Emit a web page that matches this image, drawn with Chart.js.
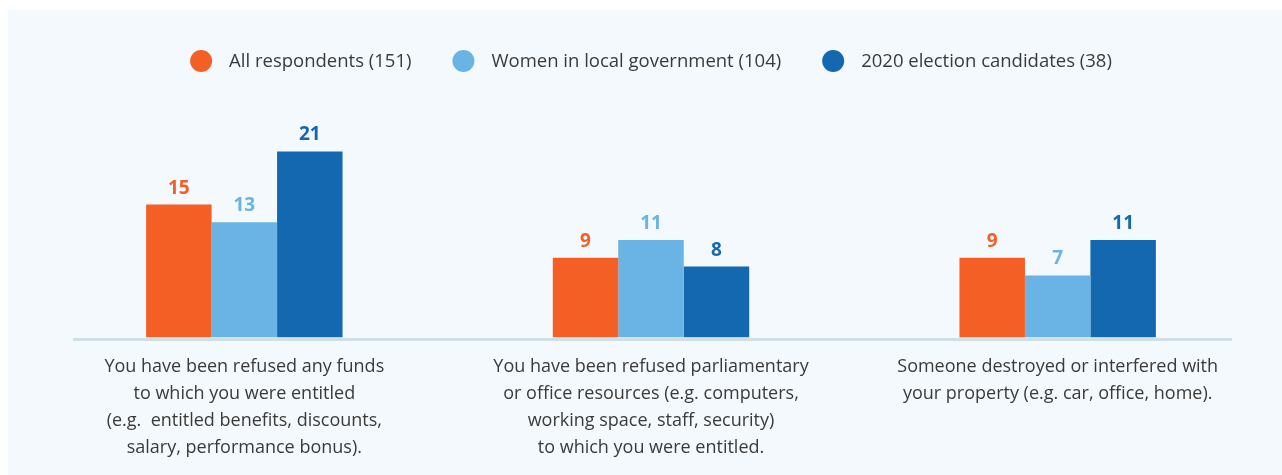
<!DOCTYPE html>
<html>
<head>
<meta charset="utf-8">
<title>Financial and property-related violence</title>
<script src="https://cdn.jsdelivr.net/npm/chart.js@4/dist/chart.umd.min.js"></script>
<style>
  html, body { margin: 0; padding: 0; background: #ffffff; }
  #wrap { position: relative; width: 1282px; height: 475px; }
  canvas { display: block; }
</style>
</head>
<body>
<div id="wrap"><canvas id="chart" width="1282" height="475"></canvas></div>
<script>
// Category labels (one array of lines per group)
const categories = [
  ["You have been refused any funds", "to which you were entitled", "(e.g.  entitled benefits, discounts,", "salary, performance bonus)."],
  ["You have been refused parliamentary", "or office resources (e.g. computers,", "working space, staff, security)", "to which you were entitled."],
  ["Someone destroyed or interfered with", "your property (e.g. car, office, home)."]
];

// Series names and values (percent of respondents)
const seriesNames = ["All respondents (151)", "Women in local government (104)", "2020 election candidates (38)"];
const allRespondents = [15, 9, 9];
const womenLocalGov = [13, 11, 7];
const electionCandidates = [21, 8, 11];

const colors = ["#F45F25", "#69B4E4", "#1368B0"];
const FONT = "'Open Sans', 'DejaVu Sans', sans-serif";
const TEXT = "#3A3A3A";

// Light panel behind the chart
const panelPlugin = {
  id: "panel",
  beforeDraw(chart) {
    const ctx = chart.ctx;
    ctx.save();
    ctx.fillStyle = "#F4F9FD";
    ctx.fillRect(8, 10, chart.width - 8, chart.height - 10);
    ctx.restore();
  }
};

// Baseline under the bars
const baselinePlugin = {
  id: "baseline",
  beforeDatasetsDraw(chart) {
    const ctx = chart.ctx;
    const y = chart.scales.y.getPixelForValue(0);
    ctx.save();
    ctx.strokeStyle = "#CFDFE8";
    ctx.lineWidth = 3;
    ctx.beginPath();
    ctx.moveTo(chart.chartArea.left + 32, y + 2);
    ctx.lineTo(chart.chartArea.right - 29, y + 2);
    ctx.stroke();
    ctx.restore();
  }
};

// Value labels above each bar, in the bar's colour
const valueLabelPlugin = {
  id: "valueLabels",
  afterDatasetsDraw(chart) {
    const ctx = chart.ctx;
    ctx.save();
    ctx.font = "700 19px " + FONT;
    ctx.textAlign = "center";
    ctx.textBaseline = "alphabetic";
    chart.data.datasets.forEach((ds, i) => {
      const meta = chart.getDatasetMeta(i);
      ctx.fillStyle = ds.backgroundColor;
      meta.data.forEach((bar, j) => {
        ctx.fillText(String(ds.data[j]), bar.x, bar.y - 11);
      });
    });
    ctx.restore();
  }
};

// Centered legend with round markers
const legendPlugin = {
  id: "roundLegend",
  afterDraw(chart) {
    const ctx = chart.ctx;
    const r = 11, gapText = 17, gapItem = 41, cy = 61;
    ctx.save();
    ctx.font = "18.5px " + FONT;
    const ds = chart.data.datasets;
    const widths = ds.map(d => ctx.measureText(d.label).width);
    const total = widths.reduce((a, b) => a + b, 0) + ds.length * (2 * r + gapText) + (ds.length - 1) * gapItem;
    const cx = (chart.chartArea.left + chart.chartArea.right) / 2;
    let x = cx - total / 2;
    ds.forEach((d, i) => {
      ctx.fillStyle = d.backgroundColor;
      ctx.beginPath();
      ctx.arc(x + r, cy, r, 0, Math.PI * 2);
      ctx.fill();
      x += 2 * r + gapText;
      ctx.fillStyle = TEXT;
      ctx.textAlign = "left";
      ctx.textBaseline = "middle";
      ctx.fillText(d.label, x, cy + 1);
      x += widths[i] + gapItem;
    });
    ctx.restore();
  }
};

const seriesValues = [allRespondents, womenLocalGov, electionCandidates];

new Chart(document.getElementById("chart"), {
  type: "bar",
  data: {
    labels: categories,
    datasets: seriesNames.map((name, i) => ({
      label: name,
      data: seriesValues[i],
      backgroundColor: colors[i],
      borderWidth: 0,
      categoryPercentage: 0.483,
      barPercentage: 1.0
    }))
  },
  options: {
    responsive: false,
    animation: false,
    layout: { padding: { top: 116, left: 41, right: 21, bottom: 0 } },
    plugins: {
      legend: { display: false },
      tooltip: { enabled: false }
    },
    scales: {
      x: {
        grid: { display: false, drawTicks: false },
        border: { display: false },
        ticks: {
          color: TEXT,
          font: { family: FONT, size: 18, lineHeight: "27px" },
          padding: 16,
          maxRotation: 0,
          autoSkip: false
        },
        afterFit(scale) { scale.height = 137.5; }
      },
      y: {
        display: false,
        min: 0,
        max: 25
      }
    }
  },
  plugins: [panelPlugin, baselinePlugin, valueLabelPlugin, legendPlugin]
});
</script>
</body>
</html>
